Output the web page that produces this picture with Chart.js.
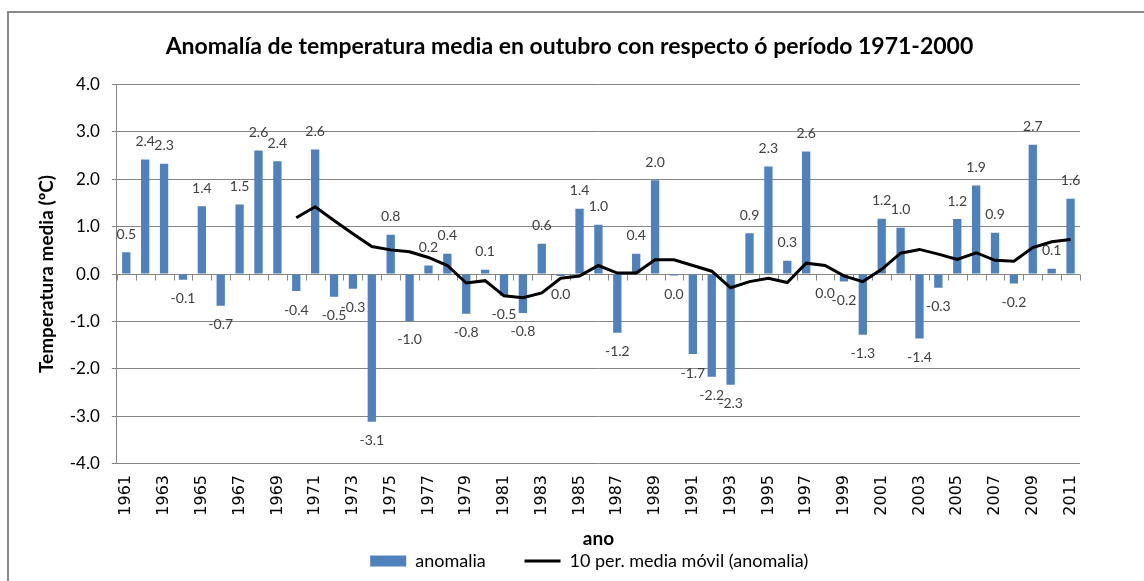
<!DOCTYPE html>
<html>
<head>
<meta charset="utf-8">
<script src="https://cdn.jsdelivr.net/npm/chart.js@4.4.1/dist/chart.umd.min.js"></script>
<style>
  html, body { margin: 0; padding: 0; background: #fff; overflow: hidden; }
  #frame { position: absolute; left: 7px; top: 11px; width: 1300px; height: 700px; border: 2px solid #8a8a8a; }
  #wrap { position: absolute; left: 0; top: 0; width: 1144px; height: 581px; }
</style>
</head>
<body>
<div id="frame"></div>
<div id="wrap"><canvas id="chart"></canvas></div>
<script>
const years = [];
for (let y = 1961; y <= 2011; y++) years.push(String(y));

// anomalía de outubro (ºC)
const anomalia = [
  0.46, 2.42, 2.33, -0.12, 1.43, -0.67, 1.47, 2.61, 2.38, -0.36,
  2.63, -0.48, -0.31, -3.12, 0.83, -0.99, 0.18, 0.43, -0.84, 0.09,
  -0.46, -0.82, 0.64, -0.04, 1.38, 1.04, -1.24, 0.43, 1.98, -0.03,
  -1.69, -2.17, -2.34, 0.86, 2.27, 0.28, 2.59, -0.01, -0.16, -1.28,
  1.17, 0.98, -1.36, -0.29, 1.16, 1.87, 0.87, -0.2, 2.73, 0.11,
  1.59
];

// media móvil de 10 períodos
const mediaMovil = [
  null, null, null, null, null, null, null, null, null, 1.19,
  1.42, 1.13, 0.85, 0.58, 0.51, 0.47, 0.35, 0.18, -0.19, -0.14,
  -0.46, -0.5, -0.4, -0.09, -0.04, 0.18, 0.02, 0.02, 0.3, 0.3,
  0.18, 0.06, -0.29, -0.16, -0.09, -0.18, 0.23, 0.18, -0.04, -0.16,
  0.1, 0.44, 0.52, 0.42, 0.31, 0.45, 0.29, 0.27, 0.56, 0.68,
  0.73
];

const yTicks = [-4, -3, -2, -1, 0, 1, 2, 3, 4];

const grey = '#868686';

function fmt(v) {
  if (Math.abs(v) < 0.05) return '0.0';
  return v.toFixed(1);
}

// eixo horizontal en 0 con marcas entre categorías
const zeroAxis = {
  id: 'zeroAxis',
  beforeDatasetsDraw(chart) {
    const ctx = chart.ctx;
    const xs = chart.scales.x, ys = chart.scales.y;
    const y0 = Math.round(ys.getPixelForValue(0)) + 0.5;
    const step = xs.getPixelForTick(1) - xs.getPixelForTick(0);
    ctx.save();
    ctx.strokeStyle = grey;
    ctx.lineWidth = 1;
    ctx.beginPath();
    ctx.moveTo(xs.left, y0);
    ctx.lineTo(xs.right, y0);
    for (let i = 0; i <= years.length; i++) {
      const x = Math.round(xs.getPixelForTick(0) - step / 2 + i * step) + 0.5;
      ctx.moveTo(x, y0);
      ctx.lineTo(x, y0 + 6);
    }
    ctx.stroke();
    ctx.restore();
  }
};

// etiquetas de datos sobre as barras
const barLabels = {
  id: 'barLabels',
  afterDatasetsDraw(chart) {
    const ctx = chart.ctx;
    const meta = chart.getDatasetMeta(0);
    ctx.save();
    ctx.font = '14px Lato';
    ctx.fillStyle = '#404040';
    ctx.textAlign = 'center';
    ctx.textBaseline = 'middle';
    meta.data.forEach((bar, i) => {
      const v = anomalia[i];
      const y = v > 0 ? bar.y - 18 : bar.y + 19;
      ctx.fillText(fmt(v), bar.x, y);
    });
    ctx.restore();
  }
};

new Chart(document.getElementById('chart'), {
  type: 'bar',
  data: {
    labels: years,
    datasets: [{
      type: 'bar',
      label: 'anomalia',
      data: anomalia,
      backgroundColor: '#4F81BD',
      borderWidth: 0,
      barPercentage: 0.44,
      categoryPercentage: 1.0,
      pointStyle: 'rect',
      order: 2
    }, {
      type: 'line',
      label: '10 per. media móvil (anomalia)',
      data: mediaMovil,
      borderColor: '#000',
      backgroundColor: '#000',
      borderWidth: 3,
      pointRadius: 0,
      tension: 0,
      pointStyle: 'line',
      order: 1
    }]
  },
  options: {
    responsive: true,
    maintainAspectRatio: false,
    animation: false,
    layout: { padding: { left: 31, right: 64, top: 33, bottom: 1 } },
    plugins: {
      title: {
        display: true,
        text: '     Anomalía de temperatura media en outubro con respecto ó período 1971-2000',
        color: '#000',
        font: { family: 'Lato', size: 23, weight: 'bold' },
        padding: { top: 0, bottom: 24 }
      },
      legend: {
        position: 'bottom',
        fullSize: false,
        labels: {
          color: '#000',
          font: { family: 'Lato', size: 18 },
          usePointStyle: true,
          pointStyleWidth: 36,
          boxHeight: 11,
          padding: 2,
          sort: (a, b) => a.datasetIndex - b.datasetIndex,
          generateLabels(chart) {
            const items = Chart.defaults.plugins.legend.labels.generateLabels(chart);
            items.forEach(it => { it.text += it.datasetIndex === 0 ? '        ' : '    '; });
            return items;
          }
        }
      },
      tooltip: { enabled: false }
    },
    scales: {
      x: {
        grid: { display: false, drawTicks: false },
        border: { display: false },
        ticks: {
          autoSkip: false,
          maxRotation: 90,
          minRotation: 90,
          padding: 11.5,
          color: '#000',
          font: { family: 'DejaVu Sans', size: 16 },
          callback(val, i) { return i % 2 === 0 ? this.getLabelForValue(val) : ''; }
        },
        title: {
          display: true,
          text: 'ano',
          color: '#000',
          font: { family: 'Lato', size: 19, weight: 'bold' },
          padding: { top: 0, bottom: 0 }
        }
      },
      y: {
        min: -4,
        max: 4,
        afterBuildTicks(scale) { scale.ticks = yTicks.map(v => ({ value: v })); },
        grid: { color: grey, tickLength: 5 },
        border: { display: true, color: grey },
        ticks: {
          padding: 12,
          color: '#000',
          font: { family: 'Lato', size: 17 },
          callback(v) { return v.toFixed(1); }
        },
        title: {
          display: true,
          text: 'Temperatura media (ºC)',
          color: '#000',
          font: { family: 'Lato', size: 19, weight: 'bold' },
          padding: { top: 4, bottom: 0 }
        }
      }
    }
  },
  plugins: [zeroAxis, barLabels]
});
</script>
</body>
</html>
